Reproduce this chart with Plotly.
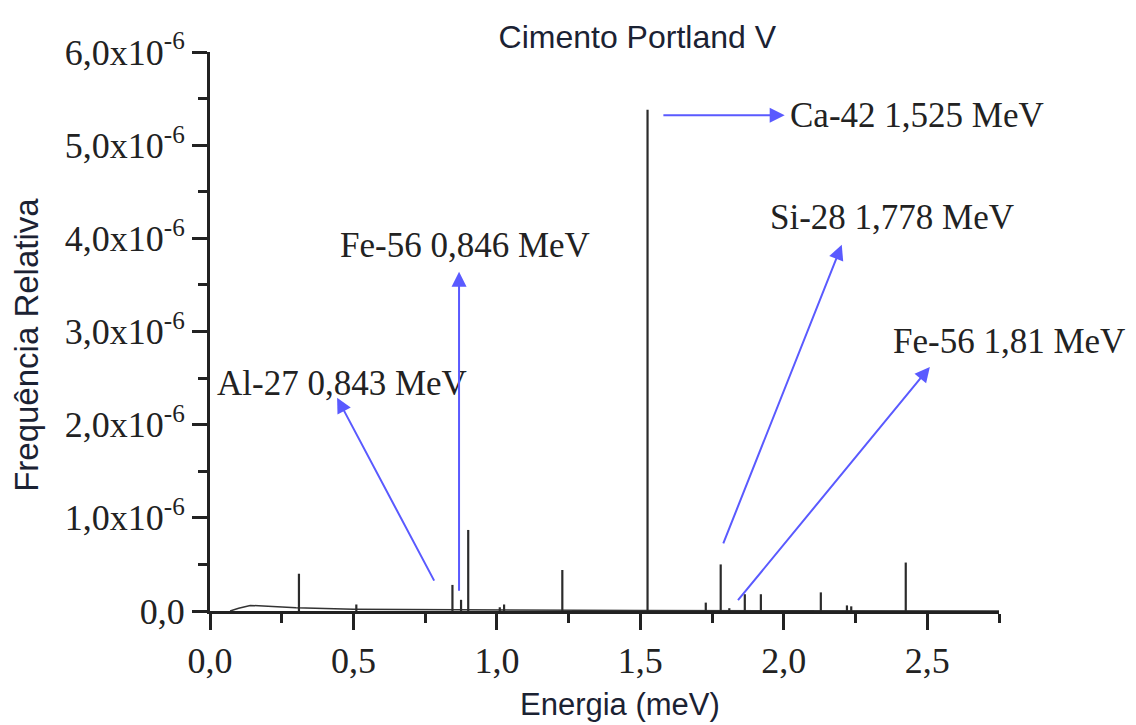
import plotly.graph_objects as go

# ---- data (energy in MeV, relative frequency in units of 1e-6) ----
peak_energy = [0.31, 0.51, 0.845, 0.875, 0.90, 1.01, 1.025, 1.228, 1.525, 1.728,
               1.78, 1.81, 1.864, 1.92, 2.129, 2.22, 2.235, 2.425]
peak_height = [0.40, 0.07, 0.28, 0.12, 0.87, 0.04, 0.07, 0.44, 5.38, 0.09,
               0.50, 0.03, 0.18, 0.18, 0.20, 0.06, 0.05, 0.52]

cont_energy = [0.07, 0.10, 0.14, 0.20, 0.30, 0.50, 0.80, 1.00, 1.50, 2.00, 2.50, 2.75]
cont_height = [0.0, 0.03, 0.06, 0.05, 0.035, 0.02, 0.015, 0.01, 0.005, 0.003, 0.002, 0.0]

y_ticks = [0, 1, 2, 3, 4, 5, 6]
y_ticktext = ["0,0", "1,0x10<sup>-6</sup>", "2,0x10<sup>-6</sup>", "3,0x10<sup>-6</sup>",
              "4,0x10<sup>-6</sup>", "5,0x10<sup>-6</sup>", "6,0x10<sup>-6</sup>"]
x_ticks = [0.0, 0.5, 1.0, 1.5, 2.0, 2.5]
x_ticktext = ["0,0", "0,5", "1,0", "1,5", "2,0", "2,5"]

# annotation: label, text anchor (E, y), arrow tail (E, y), arrow head (E, y)
labels = ["Ca-42 1,525 MeV", "Si-28 1,778 MeV", "Fe-56 1,81 MeV",
          "Fe-56 0,846 MeV", "Al-27 0,843 MeV"]
label_x = [2.014, 1.944, 2.373, 0.446, 0.017]
label_y = [5.32, 4.22, 2.89, 3.92, 2.44]
tail_x = [1.575, 1.787, 1.836, 0.868, 0.784]
tail_y = [5.32, 0.71, 0.10, 0.20, 0.31]
head_x = [2.003, 2.202, 2.509, 0.868, 0.443]
head_y = [5.32, 3.93, 2.62, 3.64, 2.29]

SCALE = 1e-6

# build peak sticks from data
px, py = [], []
for e, h in zip(peak_energy, peak_height):
    px += [e, e, None]
    py += [0, h * SCALE, None]

fig = go.Figure()
fig.add_trace(go.Scatter(x=cont_energy, y=[v * SCALE for v in cont_height],
                         mode="lines", line=dict(color="#333333", width=1.5),
                         hoverinfo="skip", showlegend=False))
fig.add_trace(go.Scatter(x=px, y=py, mode="lines",
                         line=dict(color="#2b2b2b", width=2.2),
                         showlegend=False))

annotations = []
for t, lx, ly in zip(labels, label_x, label_y):
    annotations.append(dict(x=lx, y=ly * SCALE, xref="x", yref="y", text=t,
                            showarrow=False, xanchor="left", yanchor="middle",
                            font=dict(family="Liberation Serif", size=35, color="#222222")))
for tx, ty, hx, hy in zip(tail_x, tail_y, head_x, head_y):
    annotations.append(dict(x=hx, y=hy * SCALE, ax=tx, ay=ty * SCALE,
                            xref="x", yref="y", axref="x", ayref="y", text="",
                            showarrow=True, arrowhead=2, arrowsize=1.5, arrowwidth=2,
                            arrowcolor="#5a5aff"))

annotations.append(dict(x=0.52, y=-0.168, xref="paper", yref="paper",
                        text="Energia (meV)", showarrow=False,
                        xanchor="center", yanchor="middle",
                        font=dict(family="Liberation Sans", size=31, color="#1b2233")))
annotations.append(dict(x=-0.232, y=0.476, xref="paper", yref="paper",
                        text="Frequência Relativa", showarrow=False, textangle=-90,
                        xanchor="center", yanchor="middle",
                        font=dict(family="Liberation Sans", size=33, color="#1b2233")))

fig.update_layout(
    width=1136, height=725,
    margin=dict(l=210, r=137, t=52, b=114),
    paper_bgcolor="white", plot_bgcolor="white",
    title=dict(text="Cimento Portland V", x=0.561, xanchor="center",
               y=1 - 37 / 725, yanchor="middle",
               font=dict(family="Liberation Sans", size=32, color="#1b2233")),
    annotations=annotations,
    showlegend=False,
)
fig.update_xaxes(range=[0, 2.75], showgrid=False, zeroline=False,
                 showline=True, linecolor="#222222", linewidth=3,
                 tickmode="array", tickvals=x_ticks, ticktext=x_ticktext,
                 ticks="outside", ticklen=16, tickwidth=2.5, tickcolor="#222222",
                 minor=dict(ticks="outside", ticklen=9, tickwidth=2.5, tickcolor="#222222",
                            tickmode="linear", tick0=0, dtick=0.25),
                 tickfont=dict(family="Liberation Serif", size=36, color="#222222"))
fig.update_yaxes(range=[0, 6 * SCALE], showgrid=False, zeroline=False,
                 showline=True, linecolor="#222222", linewidth=3,
                 tickmode="array", tickvals=[v * SCALE for v in y_ticks], ticktext=y_ticktext,
                 ticks="outside", ticklen=15, tickwidth=2.5, tickcolor="#222222",
                 minor=dict(ticks="outside", ticklen=9, tickwidth=2.5, tickcolor="#222222",
                            tickmode="linear", tick0=0, dtick=0.5 * SCALE),
                 tickfont=dict(family="Liberation Serif", size=36, color="#222222"))

fig.write_html("out.html")
